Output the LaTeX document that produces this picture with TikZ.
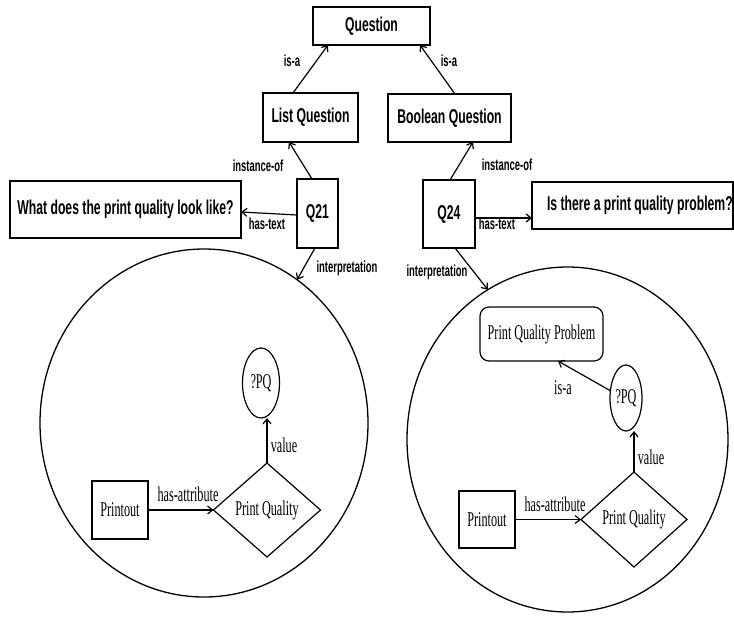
\documentclass[tikz,border=0pt]{standalone}
\usepackage{fontspec}
\newfontfamily\hsf[FakeStretch=0.61]{Liberation Sans}
\newfontfamily\hsfl[FakeStretch=0.59]{Liberation Sans}
\newfontfamily\tms[FakeStretch=0.58]{Liberation Serif}
\usetikzlibrary{shapes.geometric,arrows.meta,calc}
\begin{document}
\begin{tikzpicture}[x=1pt,y=-1pt,
  every node/.style={inner sep=0pt, outer sep=0pt},
  hbox/.style={draw, line width=1.4pt, rectangle, font={\hsf\bfseries\fontsize{20}{22}\selectfont}},
  htext/.style={font={\hsf\bfseries\fontsize{20}{22}\selectfont}},
  lbl/.style={font={\hsfl\bfseries\fontsize{16}{18}\selectfont}},
  sbox/.style={draw, line width=1.2pt, font={\tms\fontsize{21}{23}\selectfont}},
  tl/.style={font={\tms\fontsize{21}{23}\selectfont}},
  frame/.style={draw, ellipse, line width=1.3pt},
  arr/.style={-{Straight Barb[length=5pt,width=8pt]}, line width=1.2pt}
]
\useasboundingbox (0,0) rectangle (734,619);

% top part
\node[hbox, minimum width=117, minimum height=38] (Q) at (371.5,26) {Question};
\node[hbox, minimum width=95, minimum height=49] (LQ) at (310.5,117.5) {List Question};
\node[hbox, minimum width=123, minimum height=48] (BQ) at (449.5,118) {Boolean Question};
\node[hbox, minimum width=41, minimum height=69] (Q21) at (317.5,213.5) {Q21};
\node[hbox, minimum width=52, minimum height=68] (Q24) at (449,214) {Q24};
\node[hbox, minimum width=231, minimum height=57] (T21) at (125.5,209.5) {What does the print quality look like?};
\node[hbox, minimum width=201, minimum height=47] (T24) at (632.5,205.5) {};
\node[htext, anchor=west] (T24t) at ([xshift=15]T24.west) {Is there a print quality problem?};

% frames
\node[frame, minimum width=328, minimum height=348] (C1) at (204,423) {};
\node[frame, minimum width=321, minimum height=345] (C2) at (567.5,439.5) {};

% top connectors
\draw[arr] ([xshift=-17.5]LQ.north) -- ([xshift=-43.5]Q.south);
\draw[arr] ([xshift=5.5]BQ.north) -- ([xshift=48.5]Q.south);
\draw[arr] ([xshift=-5.5]Q21.north) -- ([xshift=-21.5]LQ.south);
\draw[arr] ([xshift=1]Q24.north) -- ([xshift=23.5]BQ.south);
\draw[arr] ([yshift=-1.5]Q21.west) -- ([yshift=1.5]T21.east |- Q21.west);
\draw[arr] ([yshift=-4]Q24.east) -- ([yshift=-4]T24.west |- Q24.east);
\draw[arr] ([xshift=-2.5]Q21.south) -- (C1.57.5);
\draw[arr] ([xshift=6]Q24.south) -- (C2.118.4);

\node[lbl] (l1) at (292,61) {is-a};
\node[lbl] (l2) at (449,61) {is-a};
\node[lbl] (l3) at (258,166) {instance-of};
\node[lbl] (l4) at (507,165) {instance-of};
\node[lbl] (l5) at (267,224) {has-text};
\node[lbl] (l6) at (497,224) {has-text};
\node[lbl] (l7) at (347,268) {interpretation};
\node[lbl] (l8) at (437,272) {interpretation};

% left interpretation
\node[sbox, ellipse, minimum width=37, minimum height=70] (PQ1) at (261,383) {?PQ};
\node[sbox, diamond, minimum width=107, minimum height=94] (D1) at (267,510) {Print Quality};
\node[sbox, rectangle, minimum width=56, minimum height=58] (P1) at (120,510) {Printout};
\draw[arr] (P1.east) -- (D1.west);
\draw[arr] (D1.north) -- (D1.north |- PQ1.south);
\node[tl] (l9) at (188,494) {has-attribute};
\node[tl] (l10) at (284,445) {value};

% right interpretation
\node[sbox, rectangle, rounded corners=9pt, minimum width=123, minimum height=54] (PQP) at (541.5,334) {Print Quality Problem};
\node[sbox, ellipse, minimum width=32, minimum height=66] (PQ2) at (626,398) {?PQ};
\node[sbox, diamond, minimum width=106, minimum height=95] (D2) at (634,519.5) {Print Quality};
\node[sbox, rectangle, minimum width=56, minimum height=57] (P2) at (487,519.5) {Printout};
\draw[arr] (P2.east) -- (D2.west);
\draw[arr] (D2.north) -- (D2.north |- PQ2.south);
\draw[arr] (PQ2.155) -- ([xshift=16.5]PQP.south);
\node[tl] (l11) at (555,504) {has-attribute};
\node[tl] (l12) at (651,457) {value};
\node[tl] (l13) at (563,388) {is-a};
\end{tikzpicture}
\end{document}
